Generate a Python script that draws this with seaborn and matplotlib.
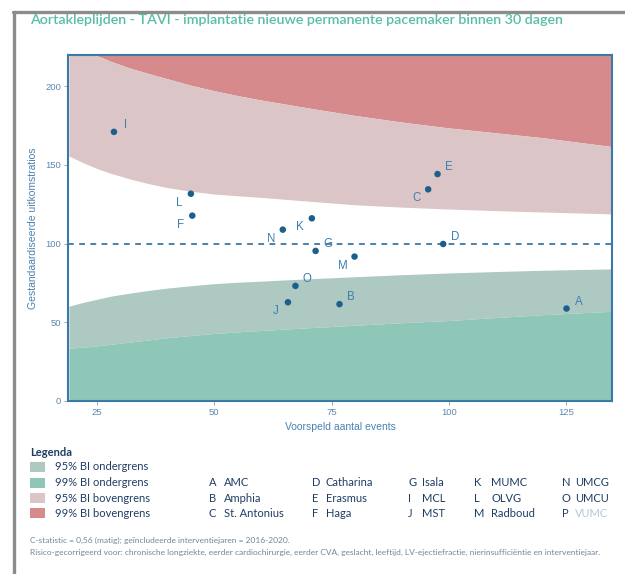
import numpy as np
import pandas as pd
import seaborn as sns
import matplotlib.pyplot as plt
from matplotlib.patches import Rectangle
from matplotlib.lines import Line2D

# hospitals in the funnel plot
codes = ["A", "B", "C", "D", "E", "F", "G", "I", "J", "K", "L", "M", "N", "O"]
expected = [125.1, 76.7, 95.6, 98.8, 97.6, 45.3, 71.6, 28.6, 65.7, 70.8, 45.0, 79.9, 64.6, 67.3]
ratio = [58.7, 61.5, 134.4, 99.7, 144.1, 117.7, 95.3, 170.9, 62.7, 116.0, 131.6, 91.7, 108.8, 73.1]
label_side = ["ne", "ne", "sw", "ne", "ne", "sw", "ne", "ne", "sw", "sw", "sw", "sw", "sw", "ne"]

# control limits
limit_x = [19, 22, 25, 28, 32, 36, 40, 45, 50, 55, 60, 70, 80, 90, 100, 110, 120, 135]
upper99 = [227, 223, 219.2, 215.6, 211.4, 207.9, 204.6, 200.5, 197, 193.9, 191.1,
           186.1, 181.3, 177.1, 173.4, 170.3, 167.2, 161.5]
upper95 = [155.6, 151.3, 147.6, 144.5, 141.0, 138.0, 135.5, 133.2, 131.4, 130.3, 129.3,
           126.9, 124.6, 123.1, 121.9, 120.9, 120.0, 118.8]
lower95 = [60.2, 62.6, 64.6, 66.6, 68.5, 70.2, 71.7, 73.2, 74.5, 75.4, 76.1,
           77.6, 78.9, 80.2, 81.3, 82.2, 83.0, 83.9]
lower99 = [33.4, 34.2, 35.0, 36.0, 37.4, 38.8, 40.2, 41.6, 42.9, 43.9, 44.8,
           46.5, 48.1, 49.7, 51.1, 53.0, 54.8, 57.0]

legend_labels = ["95% BI ondergrens", "99% BI ondergrens", "95% BI bovengrens", "99% BI bovengrens"]
legend_codes = ["A", "B", "C", "D", "E", "F", "G", "I", "J", "K", "L", "M", "N", "O", "P"]
legend_names = ["AMC", "Amphia", "St. Antonius", "Catharina", "Erasmus", "Haga", "Isala", "MCL", "MST",
                "MUMC", "OLVG", "Radboud", "UMCG", "UMCU", "VUMC"]

c_up99 = "#d68a8c"
c_up95 = "#dcc5c6"
c_lo95 = "#aec8c2"
c_lo99 = "#8ec6b8"
band_colors = [c_lo95, c_lo99, c_up95, c_up99]
blue = "#1c5f8c"
lblue = "#3f7fae"
navy = "#1f3d63"

sns.set_style("white")
plt.rcParams["font.family"] = ["Liberation Sans", "DejaVu Sans"]

W, H = 625, 574
fig = plt.figure(figsize=(W / 100, H / 100), dpi=100)
fx = lambda px: px / W
fy = lambda py: 1 - py / H

ax = fig.add_axes([fx(68), fy(401), fx(612) - fx(68), fy(55) - fy(401)])

lx = np.array(limit_x)
ax.fill_between(lx, upper99, 400, color=c_up99, lw=0)
ax.fill_between(lx, upper95, upper99, color=c_up95, lw=0)
ax.fill_between(lx, lower99, lower95, color=c_lo95, lw=0)
ax.fill_between(lx, 0, lower99, color=c_lo99, lw=0)
ax.axhline(100, color="#3a78a6", lw=1.3, dashes=(3.2, 3))

df = pd.DataFrame({"code": codes, "expected": expected, "ratio": ratio, "side": label_side})
sns.scatterplot(data=df, x="expected", y="ratio", color=blue, s=22, edgecolor="none", ax=ax, zorder=5)
for _, r in df.iterrows():
    off = (8.5, 5) if r["side"] == "ne" else (-8.5, -6.5)
    ax.annotate(r["code"], (r["expected"], r["ratio"]), xytext=off, textcoords="offset points",
                ha="center", va="center", fontsize=8.3, color=lblue, zorder=6)

ax.set_xlim(18.8, 134.8)
ax.set_ylim(0, 219.7)
ax.set_xticks([25, 50, 75, 100, 125])
ax.set_yticks([0, 50, 100, 150, 200])
ax.tick_params(axis="both", length=3, width=0.6, color="#999999", labelsize=6.8,
               labelcolor="#5a88b2", pad=2)
ax.tick_params(axis="x", bottom=True)
ax.tick_params(axis="y", left=True)
for s in ax.spines.values():
    s.set_color("#3b7aa6")
    s.set_linewidth(1.5)
ax.set_xlabel("Voorspeld aantal events", fontsize=7.5, color="#4a82b0", labelpad=4)
ax.set_ylabel("Gestandaardiseerde uitkomstratios", fontsize=7.5, color="#4a82b0", labelpad=5)

# grey frame around the card
fig.add_artist(Line2D([fx(14), fx(14)], [0, fy(12)], transform=fig.transFigure, color="#8c8c8c", lw=2.4))
fig.add_artist(Line2D([fx(13), 1], [fy(12), fy(12)], transform=fig.transFigure, color="#8c8c8c", lw=2.4))

fig.text(fx(30), fy(20), "Aortakleplijden - TAVI - implantatie nieuwe permanente pacemaker binnen 30 dagen",
         family=["Lato", "DejaVu Sans"], fontsize=10.3, weight="semibold", color="#57bfa5",
         ha="left", va="center")

# legend block
fig.text(fx(30), fy(452), "Legenda", family=["Lato", "DejaVu Sans"], fontsize=8, weight="bold",
         color=navy, ha="left", va="center")
rows = [466.7, 482.7, 498.3, 513.3]
for lab, col, ry in zip(legend_labels, band_colors, rows):
    fig.add_artist(Rectangle((fx(30), fy(ry + 5)), fx(45) - fx(30), fy(ry - 5) - fy(ry + 5),
                             transform=fig.transFigure, color=col, lw=0))
    fig.text(fx(55), fy(ry), lab, family=["Lato", "DejaVu Sans"], fontsize=8, color=navy,
             ha="left", va="center")

col_x = [(209, 224), (312, 326), (408, 422), (474, 491), (562, 575)]
for i, (code, name) in enumerate(zip(legend_codes, legend_names)):
    cx, nx = col_x[i // 3]
    ry = rows[1 + i % 3]
    fig.text(fx(cx), fy(ry), code, family=["Lato", "DejaVu Sans"], fontsize=8, color=navy,
             ha="left", va="center")
    fig.text(fx(nx), fy(ry), name, family=["Lato", "DejaVu Sans"], fontsize=8,
             color="#b5c7d8" if code == "P" else navy, ha="left", va="center")

fig.text(fx(30), fy(540), "C-statistic = 0,56 (matig); geïncludeerde interventiejaren = 2016-2020.",
         family=["Lato", "DejaVu Sans"], fontsize=6, color="#6f879e", ha="left", va="center")
fig.text(fx(30), fy(552.7), "Risico-gecorrigeerd voor: chronische longziekte, eerder cardiochirurgie, eerder CVA, "
         "geslacht, leeftijd, LV-ejectiefractie, nierinsufficiëntie en interventiejaar.",
         family=["Lato", "DejaVu Sans"], fontsize=6, color="#6f879e", ha="left", va="center")

fig.savefig("out.png", dpi=100)
